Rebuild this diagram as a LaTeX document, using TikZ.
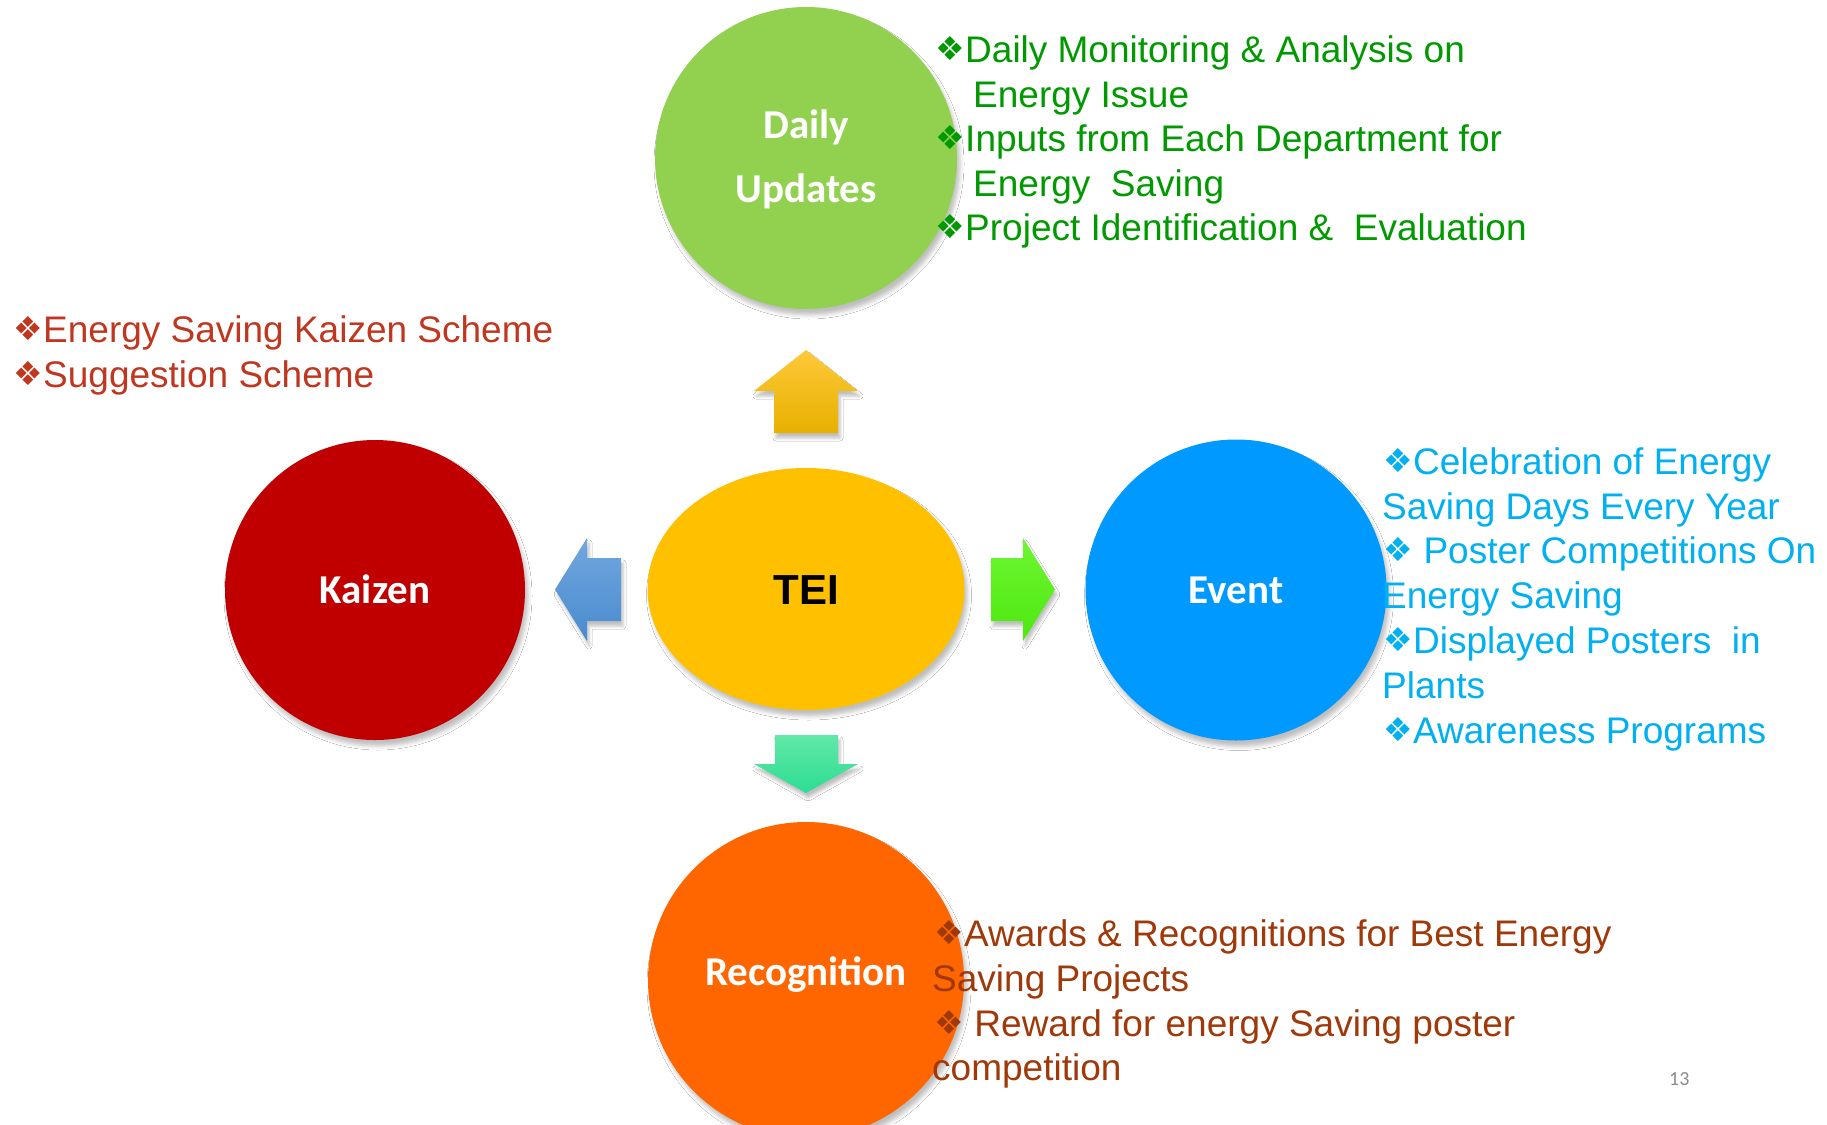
\documentclass[tikz,border=0pt]{standalone}
\usepackage{fontspec}
\setmainfont{Liberation Sans}
\newfontfamily\calib{Carlito}
\newfontfamily\dejavu{DejaVu Sans}
\usetikzlibrary{shapes.geometric,shadows.blur}
\definecolor{dailyc}{HTML}{92D050}
\definecolor{kaizenc}{HTML}{C00000}
\definecolor{eventc}{HTML}{0099FF}
\definecolor{recogc}{HTML}{FF6600}
\definecolor{teic}{HTML}{FFC000}
\definecolor{greentxt}{HTML}{009A00}
\definecolor{redtxt}{HTML}{C0361F}
\definecolor{bluetxt}{HTML}{00B0F0}
\definecolor{browntxt}{HTML}{A0390A}
\definecolor{pagenum}{HTML}{8C8C8C}
\definecolor{upA}{RGB}{255,201,58}
\definecolor{upB}{RGB}{230,176,0}
\definecolor{dnA}{RGB}{98,232,168}
\definecolor{dnB}{RGB}{44,221,146}
\definecolor{ltA}{RGB}{114,167,222}
\definecolor{ltB}{RGB}{72,139,207}
\definecolor{rtA}{RGB}{110,246,50}
\definecolor{rtB}{RGB}{76,232,14}
\newcommand\bul{\makebox[30pt][l]{\raisebox{2pt}{\dejavu\fontsize{33}{33}\selectfont ❖}}}
\begin{document}
\begin{tikzpicture}[x=1pt,y=-1pt,
  softshadow/.style={blur shadow={shadow xshift=3pt,shadow yshift=-6pt,shadow blur radius=4pt,shadow opacity=25}},
  circ/.style={circle,inner sep=0pt,softshadow},
  lbl/.style={inner sep=0pt,anchor=base,text=white,font=\calib\bfseries\fontsize{41}{41}\selectfont},
  txt/.style={inner sep=0pt,anchor=base west,font=\fontsize{37}{37}\selectfont},
  gtxt/.style={txt,text=greentxt},
  rtxt/.style={txt,text=redtxt},
  btxt/.style={txt,text=bluetxt},
  wtxt/.style={txt,text=browntxt},
  arrowshadow/.style={blur shadow={shadow xshift=2pt,shadow yshift=-5pt,shadow blur radius=3pt,shadow opacity=25}}
]
\useasboundingbox (0,0) rectangle (1827,1124);
\fill[white] (0,0) rectangle (1827,1124);

% circles
\node[circ,fill=dailyc,minimum size=302pt] (daily) at (806,158) {};
\node[circ,fill=kaizenc,minimum size=300pt] (kaizen) at (375,590) {};
\node[circ,fill=eventc,minimum size=301pt] (event) at (1236,590) {};
\node[circ,fill=recogc,minimum size=316pt] (recog) at (806,980) {};
\node[ellipse,inner sep=0pt,fill=teic,minimum width=317pt,minimum height=242pt,softshadow] (tei) at (806,589) {};

% block arrows
\shade[arrowshadow, top color=upA, bottom color=upB]
  (806,350) -- (858,391) -- (838,391) -- (838,433) -- (774,433) -- (774,391) -- (754,391) -- cycle;
\shade[arrowshadow, top color=dnA, bottom color=dnB]
  (775,735) -- (838,735) -- (838,764) -- (858,764) -- (806,793) -- (754,764) -- (775,764) -- cycle;
\shade[arrowshadow, top color=ltA, bottom color=ltB]
  (555,589.5) -- (587,538) -- (587,558) -- (621,558) -- (621,621) -- (587,621) -- (587,641) -- cycle;
\shade[arrowshadow, top color=rtA, bottom color=rtB]
  (1055,589.5) -- (1023,538) -- (1023,558) -- (991,558) -- (991,621) -- (1023,621) -- (1023,641) -- cycle;

% circle labels
\node[lbl] (dl1) at (806,138) {Daily};
\node[lbl] (dl2) at (806,202) {Updates};
\node[lbl] (kl) at (375,603) {Kaizen};
\node[lbl] (el) at (1236,603) {Event};
\node[lbl] (rl) at (806,985) {Recognition};
\node[inner sep=0pt,anchor=base,font=\bfseries\fontsize{42}{42}\selectfont] (tl) at (806,604) {TEI};

% green block
\node[gtxt] (g1) at (935,62.7) {\bul Daily Monitoring \& Analysis on};
\node[gtxt] (g2) at (973,107) {Energy Issue};
\node[gtxt] (g3) at (935,151) {\bul Inputs from Each Department for};
\node[gtxt] (g4) at (973,196) {Energy\ \ Saving};
\node[gtxt] (g5) at (935,240) {\bul Project Identification \&\ \ Evaluation};

% red block
\node[rtxt] (r1) at (13,342) {\bul Energy Saving Kaizen Scheme};
\node[rtxt] (r2) at (13,387) {\bul Suggestion Scheme};

% blue block
\node[btxt] (b1) at (1383,474) {\bul Celebration of Energy};
\node[btxt] (b2) at (1382,519) {Saving Days Every Year};
\node[btxt] (b3) at (1383,563) {\bul\ Poster Competitions On};
\node[btxt] (b4) at (1382,608) {Energy Saving};
\node[btxt] (b5) at (1383,653) {\bul Displayed Posters\ \ in};
\node[btxt] (b6) at (1382,698) {Plants};
\node[btxt] (b7) at (1383,743) {\bul Awareness Programs};

% brown block
\node[wtxt] (w1) at (934,946) {\bul Awards \& Recognitions for Best Energy};
\node[wtxt] (w2) at (932,991) {Saving Projects};
\node[wtxt] (w3) at (934,1036) {\bul\ Reward for energy Saving poster};
\node[wtxt] (w4) at (932,1080) {competition};

% page number
\node[inner sep=0pt,anchor=base west,text=pagenum,font=\calib\fontsize{20}{20}\selectfont] (pn) at (1669,1085) {13};
\end{tikzpicture}
\end{document}
